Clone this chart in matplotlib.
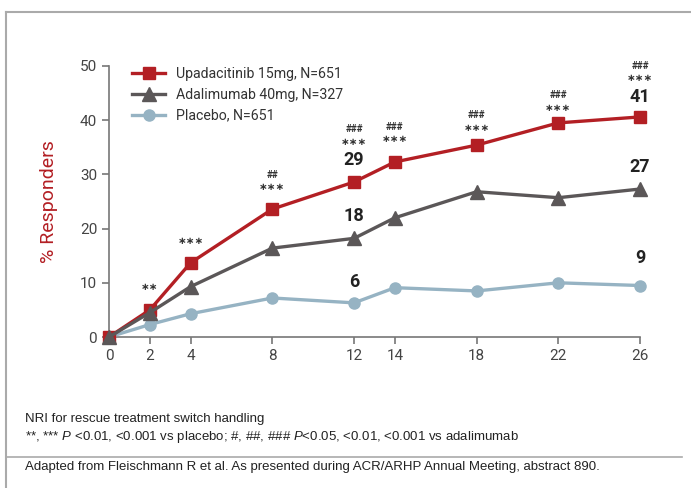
import numpy as np
from matplotlib import pyplot as plt
from matplotlib.lines import Line2D

plt.rcParams['font.family'] = ['Roboto', 'DejaVu Sans']
plt.rcParams['mathtext.fontset'] = 'custom'
plt.rcParams['mathtext.it'] = 'Liberation Sans:italic'
plt.rcParams['mathtext.rm'] = 'Liberation Sans'

weeks = [0, 2, 4, 8, 12, 14, 18, 22, 26]
upa = [0, 5.0, 13.7, 23.6, 28.6, 32.3, 35.4, 39.5, 40.6]
ada = [0, 4.5, 9.3, 16.4, 18.2, 22.0, 26.8, 25.7, 27.3]
pbo = [0, 2.3, 4.3, 7.2, 6.3, 9.1, 8.5, 10.0, 9.5]

labels = ['Upadacitinib 15mg, N=651', 'Adalimumab 40mg, N=327', 'Placebo, N=651']

# significance marks above the upadacitinib line (week, vs placebo, vs adalimumab)
sig_weeks = [2, 4, 8, 12, 14, 18, 22, 26]
sig_pbo = ['**', '***', '***', '***', '***', '***', '***', '***']
sig_ada = ['', '', '##', '###', '###', '###', '###', '###']
sig_y = [9.3, 17.8, 27.6, 36.0, 36.5, 38.6, 42.3, 47.7]

# value call-outs at week 12 and 26
val_weeks = [12, 12, 12, 26, 26, 26]
val_text = ['29', '18', '6', '41', '27', '9']
val_y = [32.6, 22.4, 10.2, 44.3, 31.3, 14.6]

red = '#B31F24'
grey = '#5B5758'
blue = '#96B3C3'
axcol = '#777777'

fig = plt.figure(figsize=(6.91, 4.88), dpi=100)
ax = fig.add_axes([0.1577, 0.3094, 0.7685, 0.5554])

ax.plot(weeks, pbo, color=blue, lw=2.4, marker='o', ms=8, clip_on=False, zorder=3)
ax.plot(weeks, upa, color=red, lw=2.4, marker='s', ms=8.5, clip_on=False, zorder=4)
ax.plot(weeks, ada, color=grey, lw=2.4, marker='^', ms=10, clip_on=False, zorder=5)

for w, a, b, y in zip(sig_weeks, sig_pbo, sig_ada, sig_y):
    ax.text(w, y, a.replace('*', '\u2217'), ha='center', va='center', fontsize=7.5,
            fontweight='bold', color='#333333', family='DejaVu Sans')
    if b:
        ax.text(w, y + 2.3, b, ha='center', va='center', fontsize=7, fontweight='bold', color='#333333')

for w, t, y in zip(val_weeks, val_text, val_y):
    ax.text(w, y, t, ha='center', va='center', fontsize=13, fontweight='bold', color='#222222')

ax.set_xlim(0, 26)
ax.set_ylim(0, 50)
ax.set_xticks(weeks)
ax.set_yticks(np.arange(0, 51, 10))
for s in ['top', 'right']:
    ax.spines[s].set_visible(False)
for s in ['left', 'bottom']:
    ax.spines[s].set_color(axcol)
    ax.spines[s].set_linewidth(1.2)
ax.tick_params(colors=axcol, labelcolor='#444444', labelsize=11, length=5, width=1.2)
ax.set_ylabel('% Responders', color=red, fontsize=14, labelpad=16)

handles = [Line2D([], [], color=red, lw=2.4, marker='s', ms=8.5),
           Line2D([], [], color=grey, lw=2.4, marker='^', ms=10),
           Line2D([], [], color=blue, lw=2.4, marker='o', ms=8)]
ax.legend(handles, labels, loc='upper left', bbox_to_anchor=(0.02, 1.045), frameon=False,
          fontsize=10.2, handlelength=2.3, labelspacing=0.5, labelcolor='#333333')

# outer frame and separator
fig.add_artist(Line2D([0.0087, 1.0], [0.975, 0.975], color='#AAAAAA', lw=1.5))
fig.add_artist(Line2D([0.0087, 0.0087], [0.0, 0.975], color='#AAAAAA', lw=1.5))
fig.add_artist(Line2D([0.0087, 0.987], [0.0635, 0.0635], color='#AAAAAA', lw=1.2))

foot = dict(fontsize=9.5, color='#222222', family='Liberation Sans', va='center')
fig.text(0.036, 1 - 419 / 488, 'NRI for rescue treatment switch handling', **foot)
fig.text(0.036, 1 - 437 / 488,
         '**, *** $P$ <0.01, <0.001 vs placebo; #, ##, ### $P$<0.05, <0.01, <0.001 vs adalimumab', **foot)
fig.text(0.036, 1 - 467 / 488,
         'Adapted from Fleischmann R et al. As presented during ACR/ARHP Annual Meeting, abstract 890.', **foot)

fig.savefig('out.png', dpi=100)
